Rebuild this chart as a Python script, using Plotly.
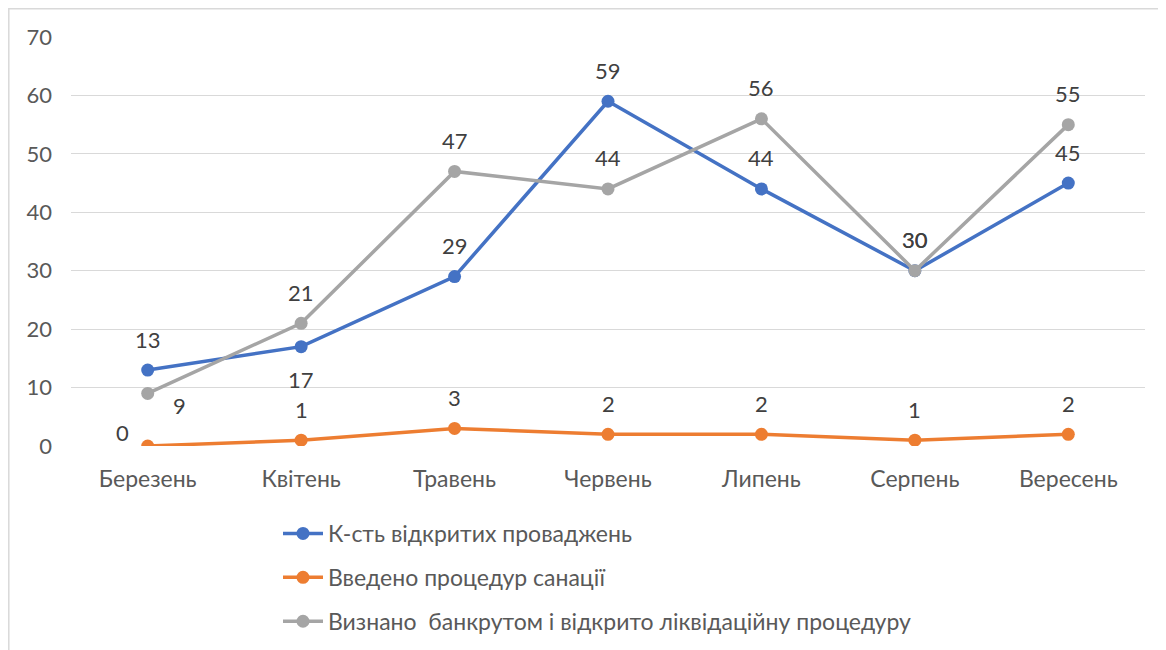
import plotly.graph_objects as go

months = ["Березень", "Квітень", "Травень", "Червень", "Липень", "Серпень", "Вересень"]
series_names = [
    "К-сть відкритих проваджень",
    "Введено процедур санації",
    "Визнано  банкрутом і відкрито ліквідаційну процедуру",
]
opened = [13, 17, 29, 59, 44, 30, 45]
sanation = [0, 1, 3, 2, 2, 1, 2]
bankrupt = [9, 21, 47, 44, 56, 30, 55]

colors = ["#4472C4", "#ED7D31", "#A5A5A5"]
# label placement per point: 't' above, 'b' below, 'br' below-right, 'tl' above-left
label_pos = [
    ["t", "b", "t", "t", "t", "t", "t"],
    ["tl", "t", "t", "t", "t", "t", "t"],
    ["br", "t", "t", "t", "t", "t", "t"],
]
shift = {"t": (0, 31), "b": (0, -33), "br": (32, -12), "tl": (-25, 14)}

FONT = "Lato"
FS = 22
FS_TXT = 23
# page body has an 8px margin, so the figure starts at (8, 8) in the window
W, H = 1158, 642
ml, mr, mt, mb = 63, 21, 29, 204

fig = go.Figure()
annotations = []
for i, (name, vals) in enumerate(zip(series_names, [opened, sanation, bankrupt])):
    fig.add_trace(go.Scatter(
        x=months, y=vals, name=name, mode="lines+markers",
        line=dict(color=colors[i], width=3.5),
        marker=dict(color=colors[i], size=13),
        legendgroup=f"g{i}",
    ))
    for m, v, p in zip(months, vals, label_pos[i]):
        dx, dy = shift[p]
        annotations.append(dict(
            x=m, y=v, xref="x", yref="y", text=str(v), showarrow=False,
            xshift=dx, yshift=dy, xanchor="center", yanchor="middle",
            font=dict(family=FONT, size=FS, color="#404040"),
        ))

pw = W - ml - mr
ph = H - mt - mb
fig.update_layout(
    width=W, height=H, autosize=False,
    margin=dict(l=ml, r=mr, t=mt, b=mb, autoexpand=False),
    paper_bgcolor="white", plot_bgcolor="white",
    font=dict(family=FONT, size=FS, color="#595959"),
    annotations=annotations,
    showlegend=True,
    legend=dict(
        orientation="v", x=(270 - ml) / pw, xanchor="left",
        y=(mt + ph - 504) / ph, yanchor="top",
        font=dict(family=FONT, size=FS_TXT, color="#595959"),
        tracegroupgap=11, itemwidth=40, bgcolor="rgba(0,0,0,0)",
    ),
    xaxis=dict(
        range=[-0.5, len(months) - 0.5],
        showgrid=False, showline=False, ticks="", zeroline=False,
        tickfont=dict(family=FONT, size=FS_TXT, color="#595959"),
        ticklabelstandoff=17,
    ),
    yaxis=dict(
        range=[0, 70], dtick=10, showgrid=True, gridcolor="#D9D9D9", gridwidth=1,
        zeroline=False, showline=False, ticks="",
        tickfont=dict(family=FONT, size=FS, color="#595959"),
        ticklabelstandoff=18,
    ),
    shapes=[dict(
        type="rect", xref="paper", yref="paper",
        x0=(0.8 - ml) / pw, x1=(W + 20 - ml) / pw,
        y0=-(H + 20 - mt - ph) / ph, y1=1 + (mt - 0.8) / ph,
        line=dict(color="#D9D9D9", width=1.5), fillcolor="rgba(0,0,0,0)",
        layer="below",
    )],
)
fig.write_html("out.html")
